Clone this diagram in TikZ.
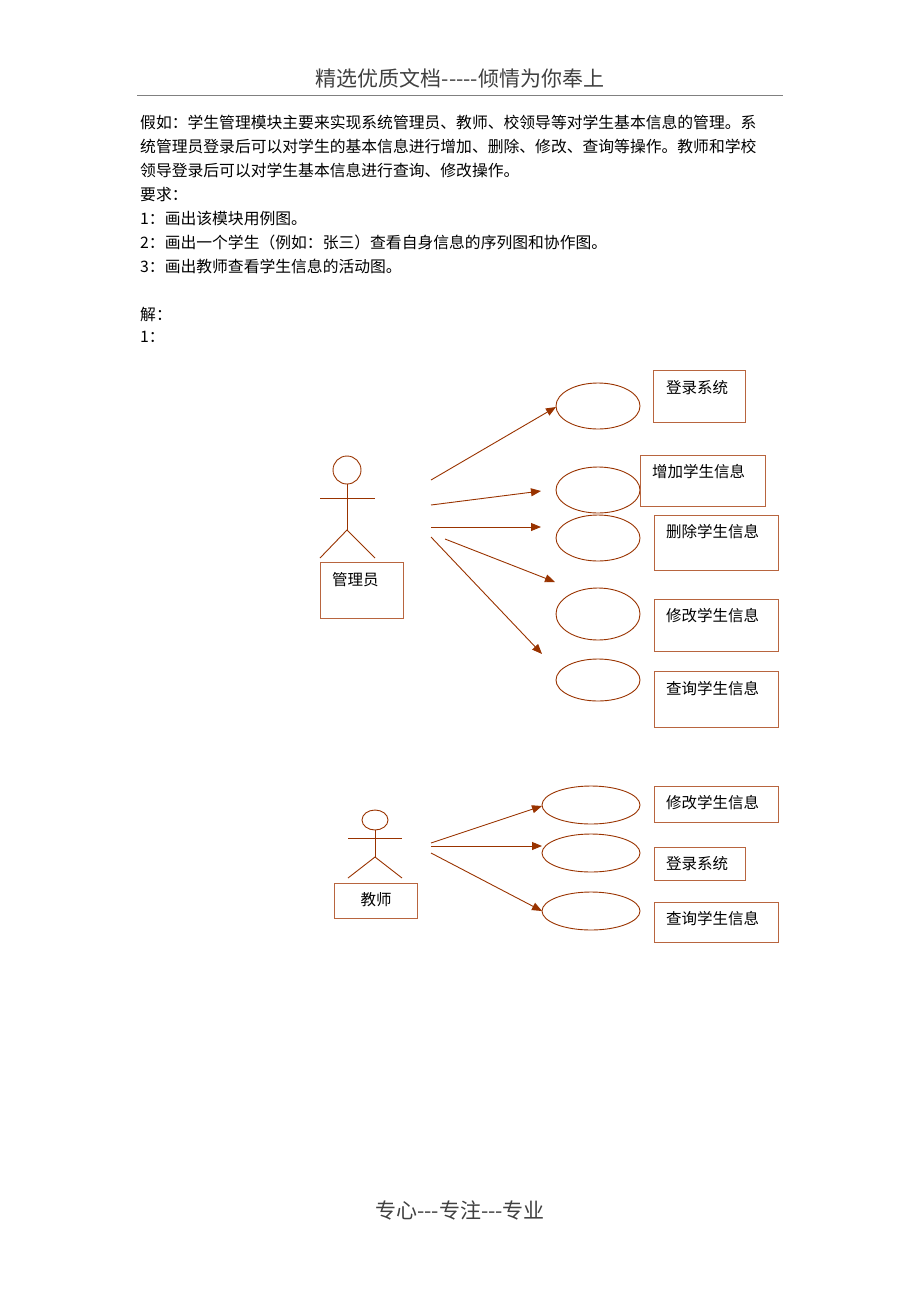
\documentclass[tikz,border=0pt]{standalone}
\usepackage{fontspec}
\setmainfont{Noto Sans CJK SC}
\usetikzlibrary{arrows.meta}
\definecolor{linecol}{HTML}{993300}
\definecolor{boxcol}{HTML}{B8653F}
\begin{document}
\begin{tikzpicture}[x=1pt,y=-1pt]
	\tikzstyle{every node}+=[inner sep=0pt]
	\tikzstyle{txt}=[anchor=north west,font=\fontsize{15.8}{17}\selectfont]
	\tikzstyle{lbl}=[anchor=west,font=\fontsize{15.5}{17}\selectfont]
	\tikzstyle{uc}=[draw=linecol,line width=0.9pt]
	\tikzstyle{box}=[draw=boxcol,line width=1pt]
	\tikzstyle{assoc}=[draw=linecol,line width=0.9pt,-{Triangle[length=10pt,width=8pt]}]
	\useasboundingbox (0,0) rectangle (920,1302);
	% header and footer
	\node[font=\fontsize{21}{23}\selectfont,text=black!75] (head) at (460,78) {精选优质文档{-}{-}{-}{-}{-}倾情为你奉上};
	\draw[black!50,line width=0.6pt] (137,95) -- (783,95);
	\node[font=\fontsize{21}{23}\selectfont,text=black!75] (foot) at (460,1210) {专心{-}{-}{-}专注{-}{-}{-}专业};
	% task text
	\node[txt] (t1) at (140,115) {假如：学生管理模块主要来实现系统管理员、教师、校领导等对学生基本信息的管理。系};
	\node[txt] (t2) at (140,139) {统管理员登录后可以对学生的基本信息进行增加、删除、修改、查询等操作。教师和学校};
	\node[txt] (t3) at (140,163) {领导登录后可以对学生基本信息进行查询、修改操作。};
	\node[txt] (t4) at (140,187) {要求：};
	\node[txt] (t5) at (140,211) {1：画出该模块用例图。};
	\node[txt] (t6) at (140,235) {2：画出一个学生（例如：张三）查看自身信息的序列图和协作图。};
	\node[txt] (t7) at (140,259) {3：画出教师查看学生信息的活动图。};
	\node[txt] (t8) at (140,307) {解：};
	\node[txt] (t9) at (140,331) {1：};
	% admin actor
	\draw[uc] (347,470) circle (14);
	\draw[uc] (347,484) -- (347,530);
	\draw[uc] (320,498) -- (375,498);
	\draw[uc] (320,558) -- (347,530) -- (375,558);
	\draw[box] (320,562) rectangle (403,618);
	\node[lbl] (admin) at (332,580) {管理员};
	% admin use cases
	\draw[uc] (598,406) ellipse (42 and 23);
	\draw[uc] (598,490) ellipse (42 and 23);
	\draw[uc] (598,538) ellipse (42 and 23);
	\draw[uc] (598,614) ellipse (42 and 26);
	\draw[uc] (598,680) ellipse (42 and 21);
	\draw[box] (653,370) rectangle (745,422);
	\node[lbl] (login) at (666,388) {登录系统};
	\draw[box] (640,455) rectangle (765,506);
	\node[lbl] (add) at (652,472) {增加学生信息};
	\draw[box] (654,515) rectangle (778,570);
	\node[lbl] (del) at (666,532) {删除学生信息};
	\draw[box] (654,599) rectangle (778,651);
	\node[lbl] (mod) at (666,616) {修改学生信息};
	\draw[box] (654,671) rectangle (778,727);
	\node[lbl] (query) at (666,689) {查询学生信息};
	% admin associations
	\coordinate (a1s) at (431,480); \coordinate (a1e) at (556,407);
	\coordinate (a2s) at (431,505); \coordinate (a2e) at (541,491);
	\coordinate (a3s) at (431,527); \coordinate (a3e) at (541,527);
	\coordinate (a4s) at (445,539); \coordinate (a4e) at (555,582);
	\coordinate (a5s) at (431,537); \coordinate (a5e) at (542,654);
	\foreach \i in {1,...,5}
		\draw[assoc] (a\i s) -- (a\i e);
	% teacher actor
	\draw[uc] (375,820) ellipse (13 and 10);
	\draw[uc] (375,830) -- (375,857);
	\draw[uc] (348,838) -- (402,838);
	\draw[uc] (348,878) -- (375,857) -- (402,878);
	\draw[box] (334,883) rectangle (417,918);
	\node (teacher) at (376,900) {\fontsize{15.5}{17}\selectfont 教师};
	% teacher use cases
	\draw[uc] (591,805) ellipse (49 and 19);
	\draw[uc] (591,853) ellipse (49 and 19);
	\draw[uc] (591,911) ellipse (49 and 19);
	\draw[box] (654,786) rectangle (778,822);
	\node[lbl] (tmod) at (666,803) {修改学生信息};
	\draw[box] (654,847) rectangle (745,880);
	\node[lbl] (tlogin) at (666,864) {登录系统};
	\draw[box] (654,902) rectangle (778,942);
	\node[lbl] (tquery) at (666,919) {查询学生信息};
	% teacher associations
	\coordinate (b1s) at (431,843); \coordinate (b1e) at (542,806);
	\coordinate (b2s) at (431,846); \coordinate (b2e) at (542,846);
	\coordinate (b3s) at (431,853); \coordinate (b3e) at (542,911);
	\foreach \i in {1,2,3}
		\draw[assoc] (b\i s) -- (b\i e);
\end{tikzpicture}
\end{document}
